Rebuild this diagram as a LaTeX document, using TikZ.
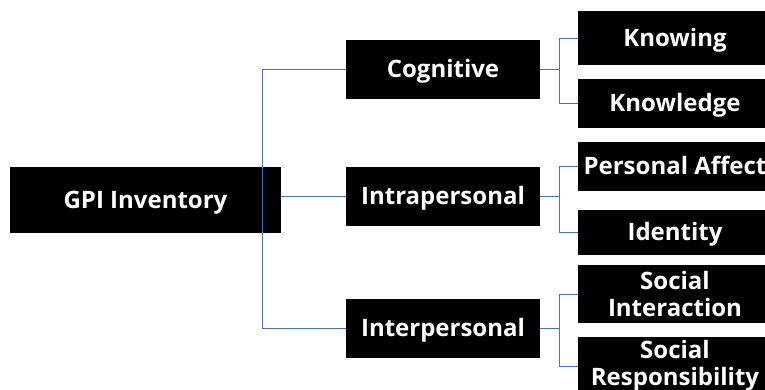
\documentclass[tikz,border=0pt]{standalone}
\usepackage{fontspec}
\setmainfont{Open Sans}
\definecolor{connblue}{HTML}{4472C4}
\begin{document}
\begin{tikzpicture}[x=1pt,y=-1pt,
  box/.style={fill=black,text=white,font=\fontsize{24}{27}\selectfont\bfseries,align=center,inner sep=0pt,minimum width=194pt,minimum height=#1},
  box/.default=59pt,
  oneline/.style={text height=22pt,text depth=6pt},
  conn/.style={draw=connblue,line width=1pt}]
\useasboundingbox (0,0) rectangle (765,389);
\clip (0,0) rectangle (765,389);
\node[box=66pt,oneline,minimum width=271pt] (gpi) at (145.5,200) {GPI Inventory};
\node[box,oneline] (cog) at (443,69.5) {Cognitive};
\node[box,oneline] (intra) at (443,196.5) {Intrapersonal};
\node[box,oneline] (inter) at (443,328.5) {Interpersonal};
\node[box=54pt,oneline] (knowing) at (675,38) {Knowing};
\node[box=49pt,oneline] (knowledge) at (675,103.5) {Knowledge};
\node[box=49pt,oneline] (affect) at (675,166.5) {Personal Affect};
\node[box=45pt,oneline] (identity) at (675,232.5) {Identity};
\node[box=58pt] (social) at (675,294) {Social\\Interaction};
\node[box=58pt] (resp) at (675,366) {Social\\Responsibility};
\coordinate (trunk) at (262,0);
\coordinate (br) at (559,0);
\draw[conn] (gpi.east |- intra.west) -- (intra.west);
\draw[conn] (cog.west) -- (trunk |- cog.west) -- (trunk |- inter.west) -- (inter.west);
\draw[conn] (cog.east) -- (br |- cog.east);
\draw[conn] (knowing.west) -- (br |- knowing.west) -- (br |- knowledge.west) -- (knowledge.west);
\draw[conn] (intra.east) -- (br |- intra.east);
\draw[conn] (affect.west) -- (br |- affect.west) -- (br |- identity.west) -- (identity.west);
\draw[conn] (inter.east) -- (br |- inter.east);
\draw[conn] (social.west) -- (br |- social.west) -- (br |- resp.west) -- (resp.west);
\end{tikzpicture}
\end{document}
